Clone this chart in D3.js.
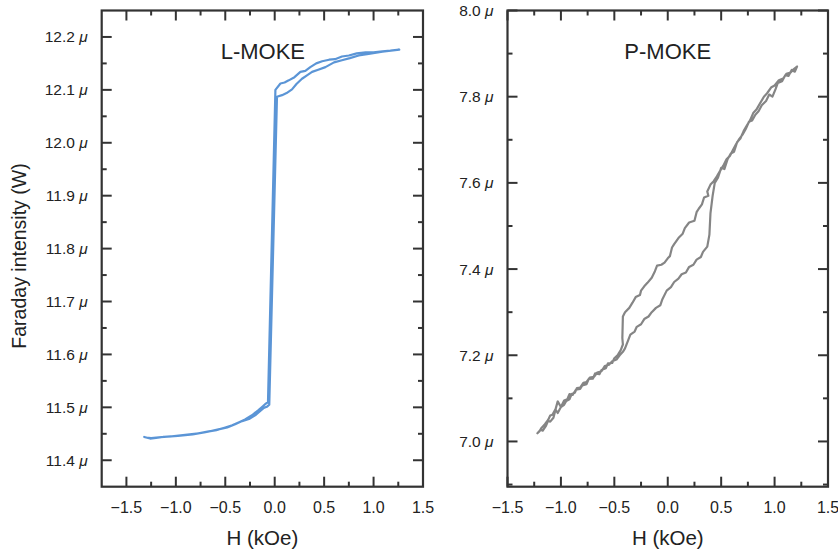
<!DOCTYPE html>
<html>
<head>
<meta charset="utf-8">
<script src="https://cdn.jsdelivr.net/npm/d3@7"></script>
<style>
  html, body { margin: 0; padding: 0; background: #fff; }
  svg { display: block; }
  text { font-family: "Liberation Sans", Arial, Helvetica, sans-serif; fill: #222; }
</style>
</head>
<body>
<svg id="chart" width="838" height="553"></svg>
<script>
// ---------- data ----------
const lmokeH = [-1.32,-1.26,-1.20,-1.13,-1.04,-0.95,-0.86,-0.77,-0.68,-0.59,-0.50,-0.43,-0.36,-0.30,-0.23,-0.17,-0.12,-0.09,-0.068,
  0.007,0.058,0.10,0.142,0.20,0.26,0.31,0.36,0.42,0.48,0.55,0.61,0.68,0.75,0.83,0.92,1.00,1.09,1.17,1.26,
  1.09,0.95,0.85,0.76,0.68,0.60,0.513,0.44,0.378,0.33,0.276,0.22,0.175,0.12,0.074,0.023,
  -0.055,-0.08,-0.11,-0.14,-0.19,-0.26,-0.33,-0.40,-0.48,-0.58,-0.70,-0.83,-0.98,-1.12,-1.25,-1.30];
const lmokeV = [11.444,11.441,11.442,11.444,11.445,11.447,11.449,11.451,11.454,11.457,11.462,11.466,11.472,11.477,11.485,11.494,11.502,11.507,11.510,
  12.100,12.112,12.114,12.118,12.124,12.134,12.136,12.143,12.150,12.154,12.157,12.158,12.163,12.165,12.169,12.171,12.171,12.173,12.174,12.176,
  12.172,12.168,12.165,12.160,12.156,12.152,12.143,12.138,12.134,12.128,12.121,12.111,12.101,12.094,12.090,12.087,
  11.505,11.501,11.499,11.494,11.486,11.478,11.474,11.468,11.462,11.458,11.453,11.449,11.446,11.444,11.442,11.443];

const pmokeH = [-1.22,-1.19,-1.17,-1.14,-1.12,-1.10,-1.07,-1.05,-1.03,-1.00,-0.97,-0.95,-0.92,-0.90,-0.87,-0.85,-0.82,-0.79,-0.76,-0.73,-0.69,-0.66,-0.62,-0.59,-0.55,-0.52,-0.48,-0.45,-0.42,-0.40,
  -0.37,-0.35,-0.31,-0.29,-0.25,-0.22,-0.18,-0.15,-0.11,-0.07,-0.05,-0.01,0.03,0.06,0.10,0.13,0.17,0.20,0.24,0.27,0.31,0.33,0.37,0.39,0.40,0.42,0.44,
  0.47,0.50,0.53,0.56,0.59,0.62,0.65,0.68,0.71,0.74,0.77,0.80,0.83,0.86,0.90,0.93,0.97,1.00,1.04,1.08,1.11,1.15,1.18,1.21,
  1.19,1.16,1.13,1.10,1.07,1.03,1.01,0.98,0.95,0.92,0.88,0.85,0.82,0.79,0.76,0.73,0.70,0.67,0.64,0.61,0.58,0.55,0.52,0.49,0.46,0.43,
  0.40,0.37,0.38,0.34,0.32,0.29,0.27,0.25,0.20,0.16,0.14,0.10,0.06,0.04,0.02,0.00,-0.03,-0.06,-0.10,-0.12,-0.15,-0.19,-0.22,-0.25,-0.26,-0.30,-0.33,-0.36,-0.40,-0.42,-0.425,-0.42,-0.44,
  -0.47,-0.50,-0.52,-0.56,-0.58,-0.62,-0.64,-0.68,-0.70,-0.74,-0.76,-0.80,-0.82,-0.86,-0.89,-0.92,-0.94,-0.97,-1.00,-1.03,-1.05,-1.08,-1.10,-1.12,-1.15,-1.18,-1.20,-1.22];
const pmokeV = [7.019,7.027,7.025,7.036,7.048,7.046,7.055,7.074,7.066,7.080,7.085,7.094,7.098,7.110,7.113,7.124,7.125,7.136,7.138,7.148,7.150,7.160,7.163,7.175,7.178,7.186,7.190,7.200,7.208,7.216,
  7.235,7.248,7.255,7.266,7.272,7.284,7.290,7.300,7.310,7.316,7.330,7.350,7.358,7.370,7.378,7.388,7.392,7.405,7.410,7.422,7.428,7.440,7.452,7.480,7.530,7.570,7.600,
  7.612,7.635,7.632,7.655,7.668,7.672,7.695,7.703,7.720,7.733,7.745,7.762,7.770,7.783,7.800,7.808,7.822,7.826,7.838,7.842,7.853,7.856,7.864,7.870,
  7.858,7.862,7.848,7.850,7.836,7.832,7.818,7.800,7.805,7.790,7.780,7.766,7.758,7.745,7.742,7.725,7.712,7.702,7.690,7.676,7.662,7.655,7.640,7.628,7.615,7.604,
  7.596,7.580,7.570,7.566,7.550,7.540,7.532,7.512,7.508,7.495,7.482,7.472,7.458,7.450,7.430,7.425,7.415,7.410,7.408,7.395,7.380,7.368,7.360,7.350,7.340,7.335,7.322,7.310,7.300,7.290,7.240,7.225,7.212,
  7.200,7.193,7.182,7.181,7.170,7.166,7.156,7.158,7.146,7.145,7.133,7.130,7.122,7.120,7.108,7.110,7.098,7.095,7.080,7.093,7.075,7.062,7.060,7.050,7.040,7.032,7.024,7.019];

const xTicksMajor = [-1.5,-1.0,-0.5,0.0,0.5,1.0,1.5];
const xTicksMinor = [-1.25,-0.75,-0.25,0.25,0.75,1.25];
const lYTicksMajor = [11.4,11.5,11.6,11.7,11.8,11.9,12.0,12.1,12.2];
const lYTicksMinor = [11.45,11.55,11.65,11.75,11.85,11.95,12.05,12.15];
const pYTicksMajor = [7.0,7.2,7.4,7.6,7.8,8.0];
const pYTicksMinor = [6.9,7.1,7.3,7.5,7.7,7.9];
const panelTitles = ["L-MOKE","P-MOKE"];
const xTitle = "H (kOe)";
const yTitle = "Faraday intensity (W)";

// ---------- drawing ----------
const svg = d3.select("#chart");
const frameColor = "#333";

function panel(opts) {
  const {left, right, top, bottom, xDomain, yDomain, H, V, color, yMaj, yMin, title, titleX} = opts;
  const x = d3.scaleLinear().domain(xDomain).range([left, right]);
  const y = d3.scaleLinear().domain(yDomain).range([bottom, top]);
  const g = svg.append("g");

  const majLen = 10, minLen = 5;
  const inX = t => t >= xDomain[0] - 1e-9 && t <= xDomain[1] + 1e-9;
  const inY = t => t >= yDomain[0] - 1e-9 && t <= yDomain[1] + 1e-9;

  const tk = g.append("g").attr("stroke", frameColor).attr("stroke-width", 2);
  xTicksMajor.filter(inX).forEach(t => {
    tk.append("line").attr("x1", x(t)).attr("x2", x(t)).attr("y1", bottom).attr("y2", bottom - majLen);
    tk.append("line").attr("x1", x(t)).attr("x2", x(t)).attr("y1", top).attr("y2", top + majLen);
  });
  xTicksMinor.filter(inX).forEach(t => {
    tk.append("line").attr("x1", x(t)).attr("x2", x(t)).attr("y1", bottom).attr("y2", bottom - minLen);
    tk.append("line").attr("x1", x(t)).attr("x2", x(t)).attr("y1", top).attr("y2", top + minLen);
  });
  yMaj.filter(inY).forEach(t => {
    tk.append("line").attr("x1", left).attr("x2", left + majLen).attr("y1", y(t)).attr("y2", y(t));
    tk.append("line").attr("x1", right).attr("x2", right - majLen).attr("y1", y(t)).attr("y2", y(t));
  });
  yMin.filter(inY).forEach(t => {
    tk.append("line").attr("x1", left).attr("x2", left + minLen).attr("y1", y(t)).attr("y2", y(t));
    tk.append("line").attr("x1", right).attr("x2", right - minLen).attr("y1", y(t)).attr("y2", y(t));
  });

  g.append("rect").attr("x", left).attr("y", top).attr("width", right - left).attr("height", bottom - top)
    .attr("fill", "none").attr("stroke", frameColor).attr("stroke-width", 2.2);

  xTicksMajor.forEach(t => {
    g.append("text").attr("x", x(t)).attr("y", bottom + 26).attr("text-anchor", "middle")
      .attr("font-size", 16).text(t < 0 ? "\u2212" + Math.abs(t).toFixed(1) : t.toFixed(1));
  });
  yMaj.filter(inY).forEach(t => {
    const tx = g.append("text").attr("x", left - 14).attr("y", y(t) + 5.5).attr("text-anchor", "end")
      .attr("font-size", 15.5);
    tx.append("tspan").text(t.toFixed(1) + " ");
    tx.append("tspan").attr("font-style", "italic").text("\u03bc");
  });

  g.append("text").attr("x", (left + right) / 2).attr("y", bottom + 58).attr("text-anchor", "middle")
    .attr("font-size", 20.5).text(xTitle);
  g.append("text").attr("x", x(titleX)).attr("y", top + 48).attr("text-anchor", "middle")
    .attr("font-size", 22).text(title);

  const pts = H.map((h, i) => [h, V[i]]);
  g.append("path").datum(pts)
    .attr("d", d3.line().x(d => x(d[0])).y(d => y(d[1])))
    .attr("fill", "none").attr("stroke", color).attr("stroke-width", 2.2)
    .attr("stroke-linejoin", "round").attr("stroke-linecap", "round");
}

panel({left: 101.7, right: 423, top: 10.5, bottom: 486.7, xDomain: [-1.75, 1.5], yDomain: [11.35, 12.25],
  H: lmokeH, V: lmokeV, color: "#5b95d6", yMaj: lYTicksMajor, yMin: lYTicksMinor, title: panelTitles[0], titleX: -0.12});
panel({left: 507.5, right: 828, top: 10.5, bottom: 486.7, xDomain: [-1.5, 1.5], yDomain: [6.895, 8.0],
  H: pmokeH, V: pmokeV, color: "#858585", yMaj: pYTicksMajor, yMin: pYTicksMinor, title: panelTitles[1], titleX: 0.0});

svg.append("text").attr("transform", "translate(26,256) rotate(-90)").attr("text-anchor", "middle")
  .attr("font-size", 19.5).text(yTitle);
</script>
</body>
</html>
